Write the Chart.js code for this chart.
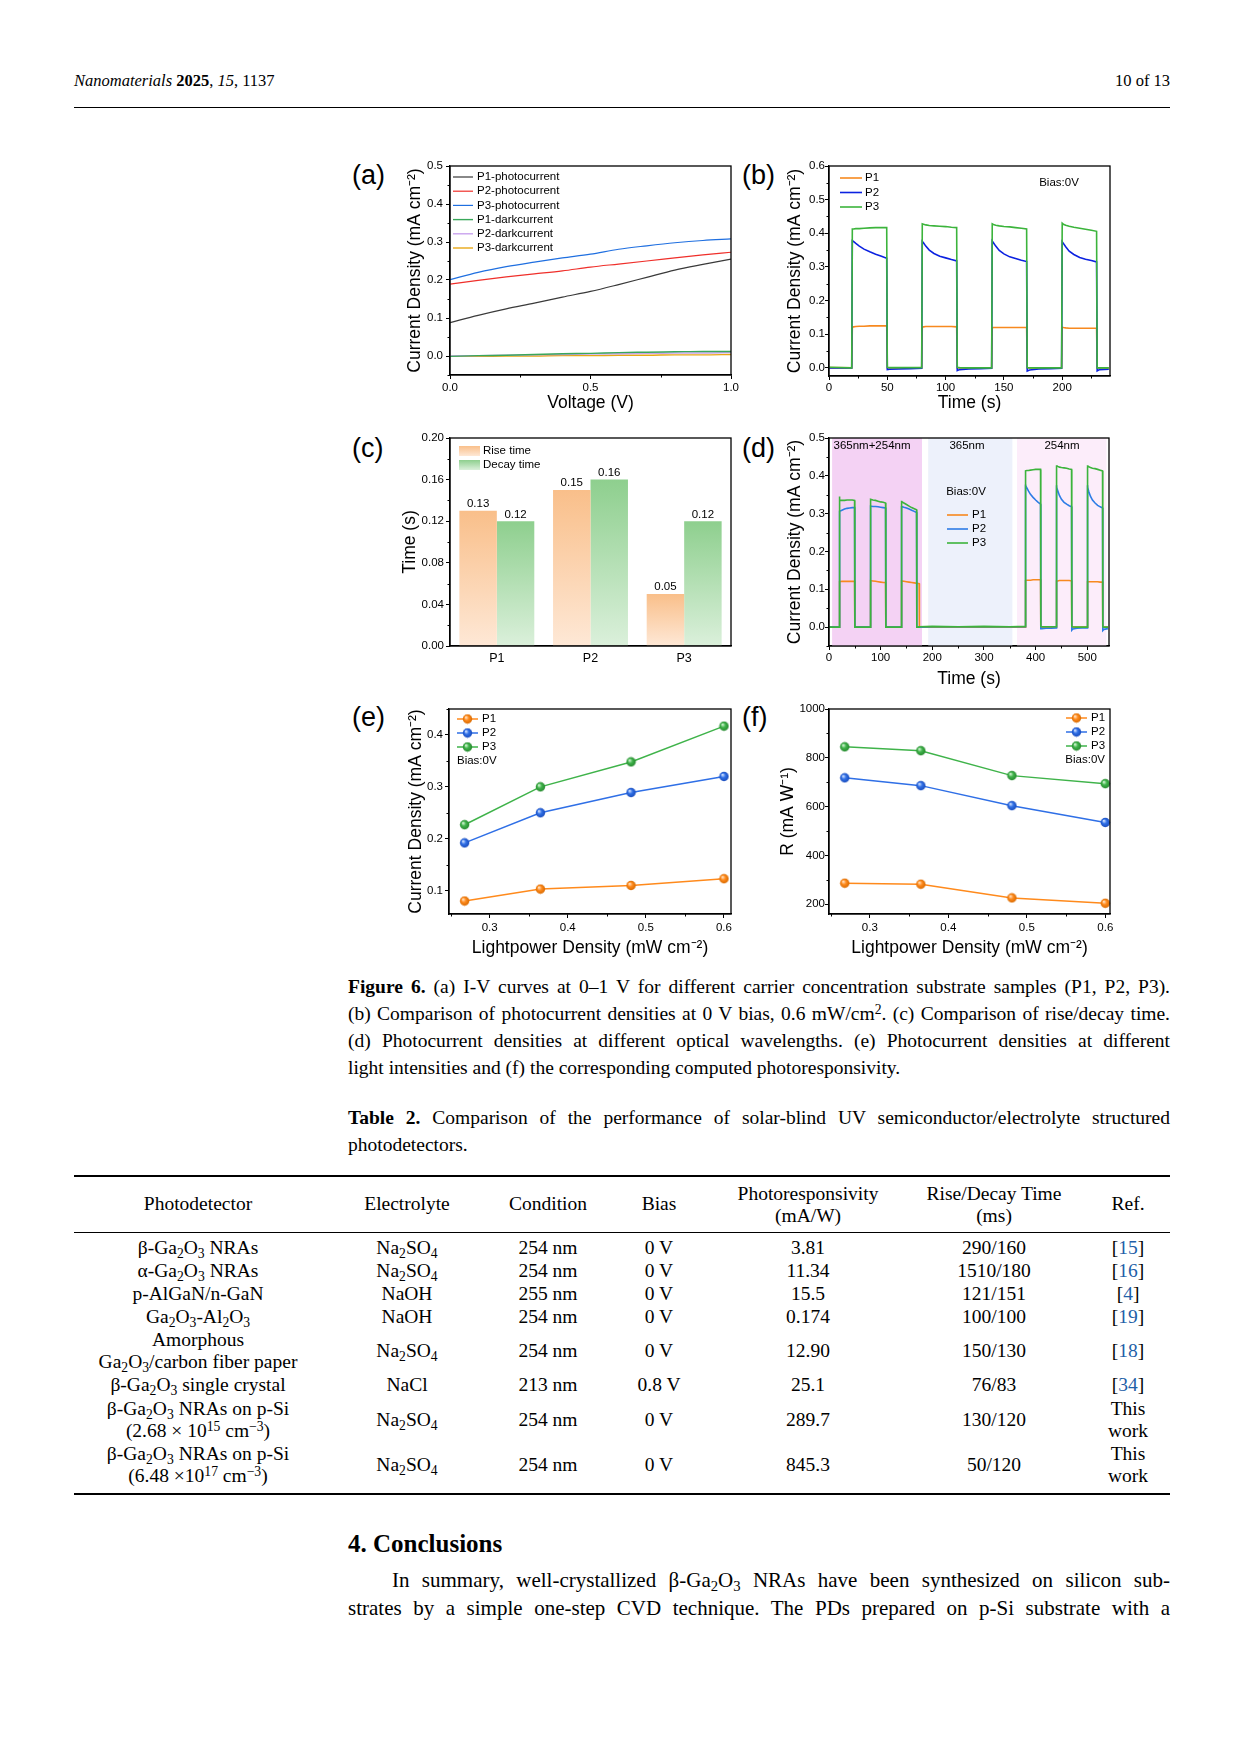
<!DOCTYPE html>
<html>
<head>
<meta charset="utf-8">
<script src="https://cdn.jsdelivr.net/npm/chart.js@4.4.1/dist/chart.umd.min.js"></script>
<style>
html,body{margin:0;padding:0;background:#fff}
body{width:1241px;height:1754px;position:relative;overflow:hidden;font-family:'Liberation Serif','Times New Roman',serif;color:#000}
canvas{position:absolute}
.abs{position:absolute;white-space:nowrap}
.lbl{position:absolute;font-family:'Liberation Sans',Arial,sans-serif;font-size:27px;line-height:30px}
.ln{position:absolute;left:348px;width:822px;height:27px;line-height:27px;font-size:19.5px}
.j{text-align:justify;text-align-last:justify}
.c{position:absolute;transform:translate(-50%,-50%);text-align:center;white-space:nowrap;font-size:19.5px;line-height:22px}
.rule{position:absolute;left:74px;width:1096px;background:#000}
sub,sup{font-size:70%;line-height:0;position:relative;vertical-align:baseline}
sub{top:.3em}
sup{top:-.45em}
.ref{color:#1f5fa8}
</style>
</head>
<body>

<div class="abs" style="left:74px;top:71px;font-size:16.5px;line-height:20px"><i>Nanomaterials</i> <b>2025</b>, <i>15</i>, 1137</div>
<div class="abs" style="right:71px;top:71px;font-size:16.5px;line-height:20px">10 of 13</div>
<div class="rule" style="top:107px;height:1px"></div>

<div class="lbl" style="left:352px;top:160px">(a)</div>
<div class="lbl" style="left:742px;top:160px">(b)</div>
<div class="lbl" style="left:352px;top:433px">(c)</div>
<div class="lbl" style="left:742px;top:433px">(d)</div>
<div class="lbl" style="left:352px;top:702px">(e)</div>
<div class="lbl" style="left:742px;top:702px">(f)</div>

<canvas id="ca"></canvas>
<canvas id="cb"></canvas>
<canvas id="cc"></canvas>
<canvas id="cd"></canvas>
<canvas id="ce"></canvas>
<canvas id="cf"></canvas>

<div class="ln j" style="top:973px"><b>Figure 6.</b> (a) I-V curves at 0–1 V for different carrier concentration substrate samples (P1, P2, P3).</div>
<div class="ln j" style="top:1000px">(b) Comparison of photocurrent densities at 0 V bias, 0.6 mW/cm<sup>2</sup>. (c) Comparison of rise/decay time.</div>
<div class="ln j" style="top:1027px">(d) Photocurrent densities at different optical wavelengths. (e) Photocurrent densities at different</div>
<div class="ln" style="top:1054px">light intensities and (f) the corresponding computed photoresponsivity.</div>

<div class="ln j" style="top:1104px"><b>Table 2.</b> Comparison of the performance of solar-blind UV semiconductor/electrolyte structured</div>
<div class="ln" style="top:1131px">photodetectors.</div>

<div class="rule" style="top:1175px;height:2px"></div>
<div class="rule" style="top:1232px;height:1px"></div>
<div class="rule" style="top:1493px;height:2px"></div>

<div class="c" style="left:198px;top:1204px">Photodetector</div>
<div class="c" style="left:407px;top:1204px">Electrolyte</div>
<div class="c" style="left:548px;top:1204px">Condition</div>
<div class="c" style="left:659px;top:1204px">Bias</div>
<div class="c" style="left:808px;top:1205px">Photoresponsivity<br>(mA/W)</div>
<div class="c" style="left:994px;top:1205px">Rise/Decay Time<br>(ms)</div>
<div class="c" style="left:1128px;top:1204px">Ref.</div>

<div class="c" style="left:198px;top:1248px">β-Ga<sub>2</sub>O<sub>3</sub> NRAs</div>
<div class="c" style="left:407px;top:1248px">Na<sub>2</sub>SO<sub>4</sub></div>
<div class="c" style="left:548px;top:1248px">254 nm</div>
<div class="c" style="left:659px;top:1248px">0 V</div>
<div class="c" style="left:808px;top:1248px">3.81</div>
<div class="c" style="left:994px;top:1248px">290/160</div>
<div class="c" style="left:1128px;top:1248px">[<span class="ref">15</span>]</div>

<div class="c" style="left:198px;top:1271px">α-Ga<sub>2</sub>O<sub>3</sub> NRAs</div>
<div class="c" style="left:407px;top:1271px">Na<sub>2</sub>SO<sub>4</sub></div>
<div class="c" style="left:548px;top:1271px">254 nm</div>
<div class="c" style="left:659px;top:1271px">0 V</div>
<div class="c" style="left:808px;top:1271px">11.34</div>
<div class="c" style="left:994px;top:1271px">1510/180</div>
<div class="c" style="left:1128px;top:1271px">[<span class="ref">16</span>]</div>

<div class="c" style="left:198px;top:1294px">p-AlGaN/n-GaN</div>
<div class="c" style="left:407px;top:1294px">NaOH</div>
<div class="c" style="left:548px;top:1294px">255 nm</div>
<div class="c" style="left:659px;top:1294px">0 V</div>
<div class="c" style="left:808px;top:1294px">15.5</div>
<div class="c" style="left:994px;top:1294px">121/151</div>
<div class="c" style="left:1128px;top:1294px">[<span class="ref">4</span>]</div>

<div class="c" style="left:198px;top:1317px">Ga<sub>2</sub>O<sub>3</sub>-Al<sub>2</sub>O<sub>3</sub></div>
<div class="c" style="left:407px;top:1317px">NaOH</div>
<div class="c" style="left:548px;top:1317px">254 nm</div>
<div class="c" style="left:659px;top:1317px">0 V</div>
<div class="c" style="left:808px;top:1317px">0.174</div>
<div class="c" style="left:994px;top:1317px">100/100</div>
<div class="c" style="left:1128px;top:1317px">[<span class="ref">19</span>]</div>

<div class="c" style="left:198px;top:1351px">Amorphous<br>Ga<sub>2</sub>O<sub>3</sub>/carbon fiber paper</div>
<div class="c" style="left:407px;top:1351px">Na<sub>2</sub>SO<sub>4</sub></div>
<div class="c" style="left:548px;top:1351px">254 nm</div>
<div class="c" style="left:659px;top:1351px">0 V</div>
<div class="c" style="left:808px;top:1351px">12.90</div>
<div class="c" style="left:994px;top:1351px">150/130</div>
<div class="c" style="left:1128px;top:1351px">[<span class="ref">18</span>]</div>

<div class="c" style="left:198px;top:1385px">β-Ga<sub>2</sub>O<sub>3</sub> single crystal</div>
<div class="c" style="left:407px;top:1385px">NaCl</div>
<div class="c" style="left:548px;top:1385px">213 nm</div>
<div class="c" style="left:659px;top:1385px">0.8 V</div>
<div class="c" style="left:808px;top:1385px">25.1</div>
<div class="c" style="left:994px;top:1385px">76/83</div>
<div class="c" style="left:1128px;top:1385px">[<span class="ref">34</span>]</div>

<div class="c" style="left:198px;top:1420px">β-Ga<sub>2</sub>O<sub>3</sub> NRAs on p-Si<br>(2.68 × 10<sup>15</sup> cm<sup>−3</sup>)</div>
<div class="c" style="left:407px;top:1420px">Na<sub>2</sub>SO<sub>4</sub></div>
<div class="c" style="left:548px;top:1420px">254 nm</div>
<div class="c" style="left:659px;top:1420px">0 V</div>
<div class="c" style="left:808px;top:1420px">289.7</div>
<div class="c" style="left:994px;top:1420px">130/120</div>
<div class="c" style="left:1128px;top:1420px">This<br>work</div>

<div class="c" style="left:198px;top:1465px">β-Ga<sub>2</sub>O<sub>3</sub> NRAs on p-Si<br>(6.48 ×10<sup>17</sup> cm<sup>−3</sup>)</div>
<div class="c" style="left:407px;top:1465px">Na<sub>2</sub>SO<sub>4</sub></div>
<div class="c" style="left:548px;top:1465px">254 nm</div>
<div class="c" style="left:659px;top:1465px">0 V</div>
<div class="c" style="left:808px;top:1465px">845.3</div>
<div class="c" style="left:994px;top:1465px">50/120</div>
<div class="c" style="left:1128px;top:1465px">This<br>work</div>

<div class="abs" style="left:348px;top:1529px;font-size:25px;line-height:30px;font-weight:bold">4. Conclusions</div>
<div class="ln j" style="top:1566px;height:28px;line-height:28px;font-size:21px;text-indent:44px">In summary, well-crystallized β-Ga<sub>2</sub>O<sub>3</sub> NRAs have been synthesized on silicon sub-</div>
<div class="ln j" style="top:1594px;height:28px;line-height:28px;font-size:21px">strates by a simple one-step CVD technique. The PDs prepared on p-Si substrate with a</div>

<script>
/* ---------------- DATA ---------------- */

// (a) I-V curves
const aVolt = [0, 0.1, 0.2, 0.3, 0.4, 0.5, 0.6, 0.7, 0.8, 0.9, 1.0]
const aP1Photo = [0.088, 0.107, 0.124, 0.139, 0.155, 0.170, 0.188, 0.207, 0.226, 0.241, 0.255]
const aP2Photo = [0.189, 0.199, 0.208, 0.216, 0.224, 0.234, 0.242, 0.250, 0.258, 0.266, 0.273]
const aP3Photo = [0.201, 0.220, 0.235, 0.247, 0.258, 0.268, 0.281, 0.290, 0.298, 0.304, 0.308]
const aP1Dark = [-0.001, 0.001, 0.002, 0.004, 0.006, 0.007, 0.009, 0.010, 0.011, 0.012, 0.012]
const aP2Dark = [0.000, 0.001, 0.002, 0.003, 0.004, 0.005, 0.006, 0.007, 0.008, 0.008, 0.009]
const aP3Dark = [-0.001, -0.001, 0.000, 0.000, 0.001, 0.001, 0.002, 0.002, 0.003, 0.003, 0.004]
const aXTicks = [0, 0.5, 1.0]
const aYTicks = [0, 0.1, 0.2, 0.3, 0.4, 0.5]

// (b) on/off cycles at 0 V
const bTime = [0, 19.5,
  20, 21, 23, 26, 30, 35, 40, 45, 49.5,
  50, 52, 60, 70, 79.5,
  80, 81, 83, 86, 90, 95, 100, 105, 109.5,
  110, 112, 120, 130, 139.5,
  140, 141, 143, 146, 150, 155, 160, 165, 169.5,
  170, 172, 180, 190, 199.5,
  200, 201, 203, 206, 210, 215, 220, 225, 229.5,
  230, 232, 240]
const bP1 = [0.001, 0.000,
  0.121, 0.122, 0.123, 0.124, 0.124, 0.125, 0.125, 0.125, 0.125,
  0.000, 0.000, 0.000, 0.000, 0.000,
  0.122, 0.122, 0.123, 0.123, 0.123, 0.123, 0.123, 0.123, 0.122,
  0.000, 0.000, 0.000, 0.000, 0.000,
  0.119, 0.120, 0.120, 0.120, 0.120, 0.120, 0.120, 0.120, 0.120,
  0.000, 0.000, 0.000, 0.000, 0.000,
  0.121, 0.120, 0.119, 0.118, 0.118, 0.118, 0.118, 0.118, 0.118,
  0.000, 0.000, 0.000]
const bP2 = [0.000, 0.000,
  0.378, 0.376, 0.370, 0.362, 0.353, 0.345, 0.338, 0.332, 0.326,
  -0.005, -0.004, -0.003, -0.002, -0.001,
  0.376, 0.372, 0.362, 0.350, 0.340, 0.332, 0.327, 0.322, 0.318,
  -0.008, -0.005, -0.003, -0.002, -0.001,
  0.377, 0.372, 0.362, 0.349, 0.339, 0.330, 0.325, 0.320, 0.316,
  -0.009, -0.006, -0.003, -0.002, -0.001,
  0.375, 0.370, 0.360, 0.347, 0.337, 0.328, 0.323, 0.319, 0.315,
  -0.009, -0.005, -0.004]
const bP3 = [0.002, 0.000,
  0.413, 0.413, 0.414, 0.414, 0.415, 0.416, 0.417, 0.417, 0.417,
  0.002, 0.001, 0.001, 0.001, 0.001,
  0.428, 0.427, 0.425, 0.423, 0.422, 0.421, 0.420, 0.418, 0.417,
  0.002, 0.001, 0.000, 0.000, 0.000,
  0.428, 0.426, 0.424, 0.422, 0.420, 0.419, 0.417, 0.415, 0.413,
  0.001, 0.000, 0.000, 0.000, 0.000,
  0.430, 0.427, 0.424, 0.421, 0.418, 0.415, 0.412, 0.409, 0.406,
  0.000, 0.000, 0.000]
const bXTicks = [0, 50, 100, 150, 200]
const bYTicks = [0, 0.1, 0.2, 0.3, 0.4, 0.5, 0.6]

// (c) rise / decay time
const cSamples = ["P1", "P2", "P3"]
const cRise = [0.13, 0.15, 0.05]
const cDecay = [0.12, 0.16, 0.12]
const cYTicks = [0, 0.04, 0.08, 0.12, 0.16, 0.20]

// (d) different wavelengths
const dTime = [0, 19.5,
  20, 21, 25, 30, 35, 40, 45, 49.5,
  50, 60, 70, 79.5,
  80, 81, 85, 90, 95, 100, 105, 109.5,
  110, 120, 130, 139.5,
  140, 141, 145, 150, 155, 160, 165, 169.5,
  170, 174.5, 175, 200, 250, 300, 350, 379.5,
  380, 381, 383, 386, 390, 395, 400, 405, 409.5,
  410, 412, 420, 430, 439.5,
  440, 441, 443, 446, 450, 455, 460, 465, 469.5,
  470, 472, 480, 490, 499.5,
  500, 501, 503, 506, 510, 515, 520, 525, 529.5,
  530, 532, 540]
const dP1 = [0.000, 0.000,
  0.119, 0.120, 0.121, 0.121, 0.121, 0.121, 0.121, 0.121,
  0.000, 0.000, 0.000, 0.000,
  0.123, 0.123, 0.122, 0.121, 0.120, 0.119, 0.118, 0.118,
  0.000, 0.000, 0.000, 0.000,
  0.122, 0.122, 0.121, 0.120, 0.119, 0.118, 0.117, 0.116,
  0.116, 0.115, 0.000, 0.000, 0.000, 0.000, 0.000, 0.000,
  0.123, 0.123, 0.124, 0.124, 0.124, 0.125, 0.125, 0.125, 0.125,
  0.000, 0.000, 0.000, 0.000, 0.000,
  0.122, 0.122, 0.122, 0.123, 0.123, 0.123, 0.123, 0.123, 0.122,
  0.000, 0.000, 0.000, 0.000, 0.000,
  0.119, 0.120, 0.120, 0.120, 0.120, 0.120, 0.120, 0.119, 0.119,
  0.000, 0.000, 0.000]
const dP2 = [0.000, 0.000,
  0.305, 0.306, 0.309, 0.312, 0.314, 0.315, 0.316, 0.316,
  0.000, 0.000, 0.000, 0.000,
  0.320, 0.320, 0.319, 0.319, 0.318, 0.317, 0.316, 0.315,
  0.000, 0.000, 0.000, 0.000,
  0.320, 0.319, 0.317, 0.315, 0.312, 0.309, 0.306, 0.303,
  0.000, 0.000, 0.000, 0.001, 0.001, 0.001, 0.001, 0.001,
  0.377, 0.374, 0.368, 0.360, 0.351, 0.343, 0.336, 0.330, 0.325,
  -0.004, -0.004, -0.003, -0.003, -0.002,
  0.375, 0.370, 0.360, 0.348, 0.338, 0.330, 0.325, 0.321, 0.318,
  -0.008, -0.005, -0.003, -0.002, -0.002,
  0.375, 0.370, 0.358, 0.346, 0.336, 0.328, 0.322, 0.318, 0.315,
  -0.009, -0.006, -0.004]
const dP3 = [0.000, 0.000,
  0.345, 0.336, 0.335, 0.335, 0.336, 0.336, 0.336, 0.335,
  0.000, 0.000, 0.000, 0.000,
  0.338, 0.338, 0.336, 0.335, 0.333, 0.331, 0.330, 0.328,
  0.000, 0.000, 0.000, 0.000,
  0.334, 0.332, 0.328, 0.324, 0.320, 0.316, 0.313, 0.310,
  0.000, 0.000, 0.001, 0.002, 0.001, 0.002, 0.001, 0.002,
  0.413, 0.413, 0.414, 0.414, 0.415, 0.416, 0.417, 0.417, 0.417,
  0.002, 0.001, 0.001, 0.001, 0.001,
  0.428, 0.427, 0.425, 0.423, 0.422, 0.421, 0.420, 0.418, 0.417,
  0.002, 0.001, 0.000, 0.000, 0.000,
  0.428, 0.426, 0.424, 0.422, 0.420, 0.419, 0.417, 0.415, 0.413,
  0.001, 0.000, 0.000]
const dBands = [[6, 180], [192, 355], [364, 537]]
const dBandNames = ["365nm+254nm", "365nm", "254nm"]
const dXTicks = [0, 100, 200, 300, 400, 500]
const dYTicks = [0, 0.1, 0.2, 0.3, 0.4, 0.5]

// (e) current vs light power, (f) responsivity
const ePower = [0.268, 0.365, 0.481, 0.6]
const eP1 = [0.080, 0.103, 0.110, 0.123]
const eP2 = [0.192, 0.250, 0.289, 0.320]
const eP3 = [0.227, 0.300, 0.348, 0.417]
const eXTicks = [0.3, 0.4, 0.5, 0.6]
const eYTicks = [0.1, 0.2, 0.3, 0.4]
const fP1 = [286, 282, 226, 204]
const fP2 = [718, 686, 604, 535]
const fP3 = [845, 829, 727, 694]
const fYTicks = [200, 400, 600, 800, 1000]


/* ---------------- SETUP ---------------- */

Chart.defaults.font.family = "'Liberation Sans', Arial, Helvetica, sans-serif"
Chart.defaults.color = "#000"

const PT = 12, PR = 14, XH = 46, YW = 56, LH = 10.5

const ORANGE = "#ff8a1c", BLUE = "#2f6fe6", GREEN = "#3fb34a"

function pts(xs, ys){
return xs.map((x, i) => ({x:x, y:ys[i]}))
}

// shaded ball marker used in (e) and (f)
function ball(light, mid, dark){
const r = 4.7
const c = document.createElement("canvas")
c.width = c.height = 11
const g = c.getContext("2d")
const gr = g.createRadialGradient(5.5 - 1.6, 5.5 - 1.8, 0.4, 5.5, 5.5, r)
gr.addColorStop(0, light)
gr.addColorStop(0.45, mid)
gr.addColorStop(1, dark)
g.fillStyle = gr
g.beginPath()
g.arc(5.5, 5.5, r, 0, Math.PI * 2)
g.fill()
return c
}
const BALL_O = ball("#ffe2c2", ORANGE, "#d86a00")
const BALL_B = ball("#cfe0ff", BLUE, "#1a4cbc")
const BALL_G = ball("#d4f5d4", GREEN, "#27892f")

function place(id, L, T, R, B){
const el = document.getElementById(id)
el.width = YW + R - L + PR
el.height = PT + B - T + XH
el.style.left = (L - YW) + "px"
el.style.top = (T - PT) + "px"
return el
}

function axis(o){
const horiz = o.horiz
const ticks = {font:{size:o.fs || 11.5}, padding:o.pad, color:"#000", autoSkip:false, maxRotation:0}
if(o.fmt) ticks.callback = o.fmt
const ax = {
type:o.type || "linear",
afterFit:s => { if(horiz) s.height = XH; else s.width = YW },
grid:{display:true, drawOnChartArea:false, drawTicks:!o.noTicks, tickLength:4, color:"#000", lineWidth:1},
border:{display:true, color:"#000", width:1.3},
ticks:ticks,
title:{display:!!o.title, text:o.title || "", color:"#000", font:{size:17.5},
padding:horiz ? {top:0, bottom:o.tpad || 0} : {top:o.tpad || 0, bottom:0}}
}
if(o.min !== undefined) ax.min = o.min
if(o.max !== undefined) ax.max = o.max
if(o.ticksAt) ax.afterBuildTicks = s => { s.ticks = o.ticksAt.map(v => ({value:v})) }
return ax
}

function minorTicks(ctx, s){
const v = s.ticks.map(t => t.value)
if(v.length < 2) return
const st = v[1] - v[0]
ctx.beginPath()
for(let m = v[0] - st / 2; m <= s.max + 1e-9; m += st){
if(m < s.min - 1e-9) continue
const p = Math.round(s.getPixelForValue(m)) + 0.5
if(s.isHorizontal()){ ctx.moveTo(p, s.top); ctx.lineTo(p, s.top + 2.5) }
else { ctx.moveTo(s.right, p); ctx.lineTo(s.right - 2.5, p) }
}
ctx.stroke()
}

const deco = {
id:"deco",
beforeDatasetsDraw(chart, args, o){
if(!o.bands) return
const ctx = chart.ctx, ca = chart.chartArea, x = chart.scales.x
ctx.save()
o.bands.forEach((b, i) => {
const x0 = x.getPixelForValue(b[0]), x1 = x.getPixelForValue(b[1])
ctx.fillStyle = o.bandColors[i]
ctx.fillRect(x0, ca.top, x1 - x0, ca.bottom - ca.top)
})
ctx.restore()
},
afterDraw(chart, args, o){
const ctx = chart.ctx, ca = chart.chartArea
ctx.save()
ctx.strokeStyle = "#000"
ctx.lineWidth = 1.3
ctx.strokeRect(ca.left, ca.top, ca.right - ca.left, ca.bottom - ca.top)
ctx.lineWidth = 1
;["x", "y"].forEach(k => {
const s = chart.scales[k]
if(s && s.type === "linear") minorTicks(ctx, s)
})
ctx.fillStyle = "#000"
ctx.font = "11.5px 'Liberation Sans', Arial, sans-serif"

if(o.barLabels){
ctx.textAlign = "center"
ctx.textBaseline = "bottom"
chart.data.datasets.forEach((ds, i) => {
chart.getDatasetMeta(i).data.forEach((el, j) => {
ctx.fillText(ds.data[j].toFixed(2), el.x, el.y - 1)
})
})
}

if(o.legend){
const lg = o.legend
chart.data.datasets.forEach((ds, i) => {
const y = ca.top + lg.y + i * lg.dy
const x0 = (lg.right ? ca.right : ca.left) + lg.x
if(lg.kind === "box"){
const gr = ctx.createLinearGradient(0, y - 5, 0, y + 5)
gr.addColorStop(0, ds.grad[0])
gr.addColorStop(1, ds.grad[1])
ctx.fillStyle = gr
ctx.fillRect(x0, y - 5, lg.len, 10)
} else {
ctx.strokeStyle = ds.borderColor
ctx.lineWidth = ds.borderWidth
ctx.beginPath()
ctx.moveTo(x0, y)
ctx.lineTo(x0 + lg.len, y)
ctx.stroke()
if(lg.kind === "ball") ctx.drawImage(ds.pointStyle, x0 + lg.len / 2 - 5.5, y - 5.5)
}
ctx.fillStyle = "#000"
ctx.textAlign = "left"
ctx.textBaseline = "middle"
ctx.fillText(ds.label, x0 + lg.len + lg.gap, y)
})
}

;(o.texts || []).forEach(t => {
ctx.fillStyle = "#000"
ctx.textAlign = t.align || "left"
ctx.textBaseline = "middle"
ctx.fillText(t.t, (t.right ? ca.right : ca.left) + t.x, ca.top + t.y)
})
ctx.restore()
}
}
Chart.register(deco)

function lineDs(label, xs, ys, color, lw, order, extra){
const ds = {label:label, data:pts(xs, ys), borderColor:color, backgroundColor:color,
borderWidth:lw, pointRadius:0, tension:0, order:order}
return Object.assign(ds, extra || {})
}

function baseOpts(scales, deco){
return {
responsive:false, animation:false, events:[],
layout:{padding:{top:PT, right:PR, left:0, bottom:0}},
plugins:{legend:{display:false}, tooltip:{enabled:false}, deco:deco},
scales:scales
}
}

const YTITLE = "Current Density (mA cm\u207B\u00B2)"
const f1 = v => v.toFixed(1)
const f2 = v => v.toFixed(2)
const f0 = v => String(Math.round(v))


/* ---------------- (a) ---------------- */
{
const L = 450, T = 166, R = 731, B = 375
const smooth = {cubicInterpolationMode:"monotone"}
new Chart(place("ca", L, T, R, B), {
type:"line",
data:{datasets:[
lineDs("P1-photocurrent", aVolt, aP1Photo, "#3a3a3a", 1.2, 0, smooth),
lineDs("P2-photocurrent", aVolt, aP2Photo, "#ef2f2a", 1.2, 1, smooth),
lineDs("P3-photocurrent", aVolt, aP3Photo, "#1f6fe0", 1.2, 2, smooth),
lineDs("P1-darkcurrent", aVolt, aP1Dark, "#39a85a", 1.4, 3, smooth),
lineDs("P2-darkcurrent", aVolt, aP2Dark, "#c9a2ee", 1.4, 4, smooth),
lineDs("P3-darkcurrent", aVolt, aP3Dark, "#e8a816", 1.4, 5, smooth)
]},
options:baseOpts({
x:axis({horiz:true, min:0, max:1, ticksAt:aXTicks, fmt:f1, pad:2, title:"Voltage (V)", tpad:B + XH - 403 - LH}),
y:axis({min:-0.05, max:0.5, ticksAt:aYTicks, fmt:f1, pad:3, title:YTITLE, tpad:415 - (L - YW) - LH})
}, {legend:{x:3, y:11, dy:14.2, len:20, gap:4, kind:"line"}})
})
}

/* ---------------- (b) ---------------- */
{
const L = 829, T = 166, R = 1110, B = 376
new Chart(place("cb", L, T, R, B), {
type:"line",
data:{datasets:[
lineDs("P1", bTime, bP1, "#f7891f", 1.6, 2),
lineDs("P2", bTime, bP2, "#0c22e0", 1.6, 1),
lineDs("P3", bTime, bP3, "#3cb43c", 1.6, 0)
]},
options:baseOpts({
x:axis({horiz:true, min:0, max:241, ticksAt:bXTicks, fmt:f0, pad:1, title:"Time (s)", tpad:B + XH - 403 - LH}),
y:axis({min:-0.024, max:0.6, ticksAt:bYTicks, fmt:f1, pad:0, title:YTITLE, tpad:795 - (L - YW) - LH})
}, {legend:{x:11, y:12, dy:14.5, len:22, gap:3, kind:"line"},
texts:[{t:"Bias:0V", x:230, y:17, align:"center"}]})
})
}

/* ---------------- (c) ---------------- */
{
const L = 450, T = 438, R = 731, B = 646
const RISE = ["#f9bf8a", "#fee8d6"], DECAY = ["#8ecf8e", "#dbf0db"]
function barFill(col){
return c => {
const y = c.chart.scales.y
if(!y || typeof c.raw !== "number") return col[0]
const y0 = y.getPixelForValue(c.raw), y1 = y.getPixelForValue(0)
if(!isFinite(y0) || !isFinite(y1) || y0 === y1) return col[0]
const g = c.chart.ctx.createLinearGradient(0, y0, 0, y1)
g.addColorStop(0, col[0])
g.addColorStop(1, col[1])
return g
}
}
new Chart(place("cc", L, T, R, B), {
type:"bar",
data:{labels:cSamples, datasets:[
{label:"Rise time", data:cRise, backgroundColor:barFill(RISE), grad:RISE, borderWidth:0, barPercentage:1, categoryPercentage:0.8},
{label:"Decay time", data:cDecay, backgroundColor:barFill(DECAY), grad:DECAY, borderWidth:0, barPercentage:1, categoryPercentage:0.8}
]},
options:baseOpts({
x:axis({horiz:true, type:"category", noTicks:true, pad:5, fs:12.5}),
y:axis({min:0, max:0.2, ticksAt:cYTicks, fmt:f2, pad:2, title:"Time (s)", tpad:410 - (L - YW) - LH})
}, {barLabels:true, legend:{x:9, y:13, dy:14, len:21, gap:3, kind:"box"}})
})
}

/* ---------------- (d) ---------------- */
{
const L = 829, T = 438, R = 1109, B = 646
new Chart(place("cd", L, T, R, B), {
type:"line",
data:{datasets:[
lineDs("P1", dTime, dP1, "#f7891f", 1.6, 2),
lineDs("P2", dTime, dP2, "#2d7ce6", 1.6, 1),
lineDs("P3", dTime, dP3, "#3cb43c", 1.6, 0)
]},
options:baseOpts({
x:axis({horiz:true, min:0, max:542, ticksAt:dXTicks, fmt:f0, pad:1, title:"Time (s)", tpad:B + XH - 679 - LH}),
y:axis({min:-0.05, max:0.5, ticksAt:dYTicks, fmt:f1, pad:0, title:YTITLE, tpad:795 - (L - YW) - LH})
}, {bands:dBands, bandColors:["#f4d2f4", "#edf1fb", "#fcedfa"],
legend:{x:118, y:77, dy:14, len:21, gap:4, kind:"line"},
texts:[
{t:dBandNames[0], x:43, y:8, align:"center"},
{t:dBandNames[1], x:138, y:8, align:"center"},
{t:dBandNames[2], x:233, y:8, align:"center"},
{t:"Bias:0V", x:137, y:54, align:"center"}
]})
})
}

/* ---------------- (e) ---------------- */
{
const L = 449, T = 709, R = 731, B = 914
const mk = b => ({pointStyle:b, pointRadius:5, clip:false})
new Chart(place("ce", L, T, R, B), {
type:"line",
data:{datasets:[
lineDs("P1", ePower, eP1, ORANGE, 1.5, 2, mk(BALL_O)),
lineDs("P2", ePower, eP2, BLUE, 1.5, 1, mk(BALL_B)),
lineDs("P3", ePower, eP3, GREEN, 1.5, 0, mk(BALL_G))
]},
options:baseOpts({
x:axis({horiz:true, min:0.248, max:0.609, ticksAt:eXTicks, fmt:f1, pad:3, title:"Lightpower Density (mW cm\u207B\u00B2)", tpad:B + XH - 948 - LH}),
y:axis({min:0.055, max:0.45, ticksAt:eYTicks, fmt:f1, pad:2, title:YTITLE, tpad:416 - (L - YW) - LH})
}, {legend:{x:8, y:10, dy:14, len:21, gap:4, kind:"ball"},
texts:[{t:"Bias:0V", x:8, y:52}]})
})
}

/* ---------------- (f) ---------------- */
{
const L = 829, T = 709, R = 1110, B = 914
const mk = b => ({pointStyle:b, pointRadius:5, clip:false})
new Chart(place("cf", L, T, R, B), {
type:"line",
data:{datasets:[
lineDs("P1", ePower, fP1, ORANGE, 1.5, 2, mk(BALL_O)),
lineDs("P2", ePower, fP2, BLUE, 1.5, 1, mk(BALL_B)),
lineDs("P3", ePower, fP3, GREEN, 1.5, 0, mk(BALL_G))
]},
options:baseOpts({
x:axis({horiz:true, min:0.248, max:0.606, ticksAt:eXTicks, fmt:f1, pad:3, title:"Lightpower Density (mW cm\u207B\u00B2)", tpad:B + XH - 948 - LH}),
y:axis({min:160, max:1000, ticksAt:fYTicks, fmt:f0, pad:0, title:"R (mA W\u207B\u00B9)", tpad:788 - (L - YW) - LH})
}, {legend:{x:-44, y:9, dy:14, len:21, gap:4, kind:"ball", right:true},
texts:[{t:"Bias:0V", x:-5, y:51, align:"right", right:true}]})
})
}
</script>
</body>
</html>
